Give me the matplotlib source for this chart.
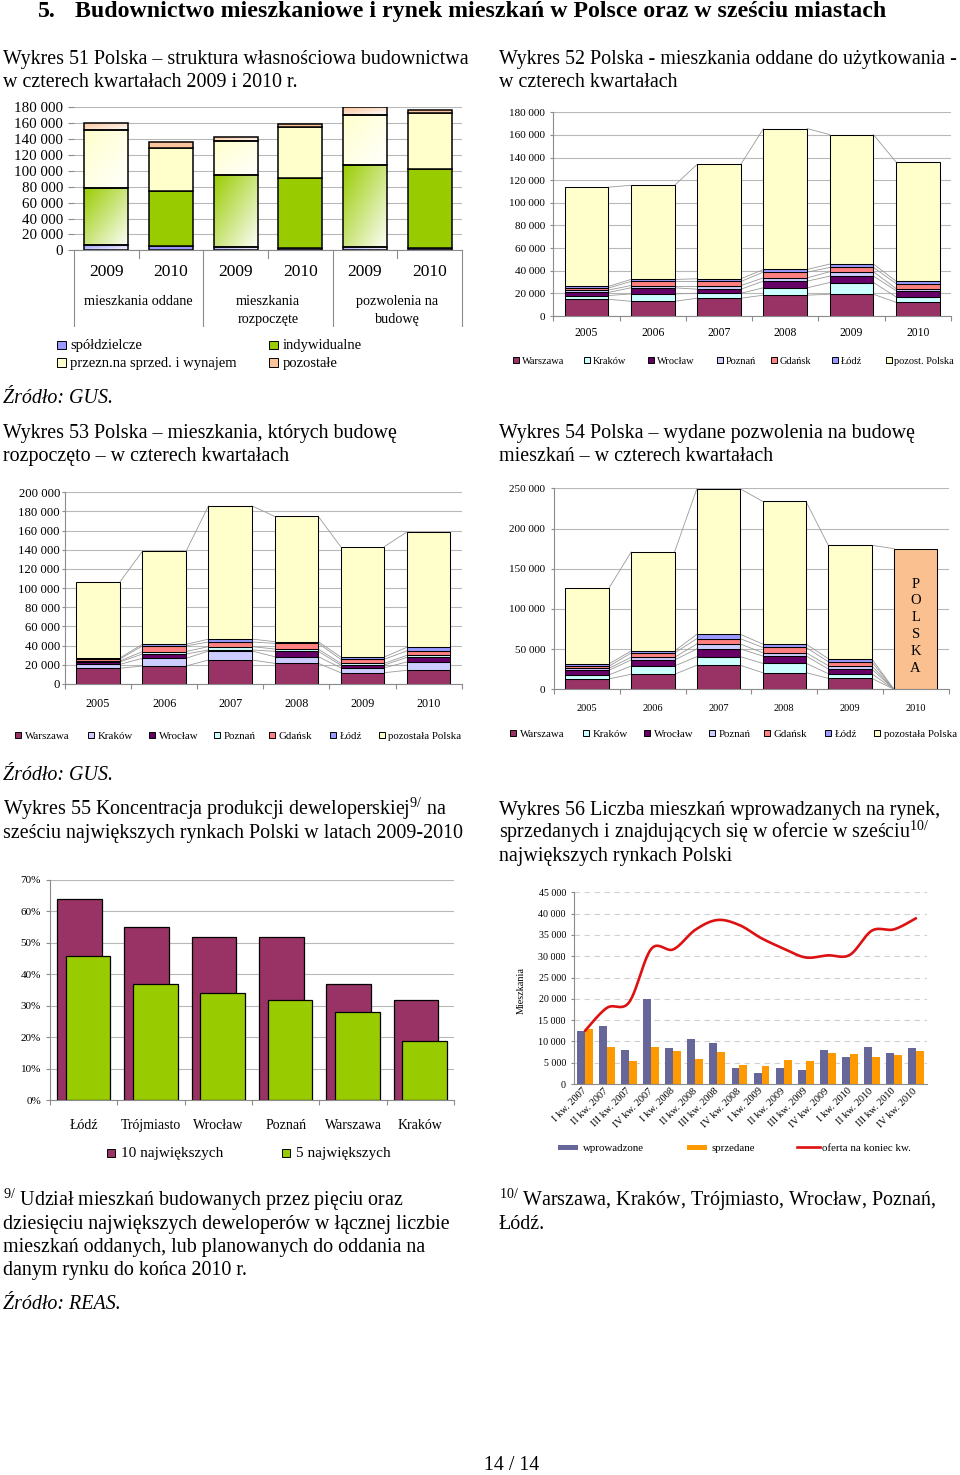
import numpy as np
import matplotlib
matplotlib.use('Agg')
import matplotlib.pyplot as plt
import matplotlib.transforms as mtransforms
from matplotlib.patches import Rectangle
from matplotlib.lines import Line2D
from matplotlib.ticker import FuncFormatter
from matplotlib.colors import to_rgb

plt.rcParams['font.family'] = ['Liberation Serif', 'DejaVu Serif']
plt.rcParams['mathtext.fontset'] = 'custom'
plt.rcParams['mathtext.rm'] = 'Liberation Serif'
plt.rcParams['mathtext.it'] = 'Liberation Serif:italic'

# ------------------------------------------------------------------ data
# Wykres 51
w51_years = ['2009', '2010', '2009', '2010', '2009', '2010']
w51_groups = [['mieszkania oddane'], ['mieszkania', 'rozpoczęte'], ['pozwolenia na', 'budowę']]
w51_spoldzielcze = [7000, 5000, 3800, 3500, 3800, 2500]
w51_indywidualne = [72000, 70000, 90700, 87600, 103300, 100400]
w51_przezn = [73000, 54300, 43700, 63900, 63800, 69300]
w51_pozostale = [8400, 6700, 5000, 3800, 8900, 3800]
w51_labels = ['spółdzielcze', 'indywidualne', 'przezn.na sprzed. i wynajem', 'pozostałe']

years = ['2005', '2006', '2007', '2008', '2009', '2010']
cities = ['Warszawa', 'Kraków', 'Wrocław', 'Poznań', 'Gdańsk', 'Łódź']

# Wykres 52 - oddane
w52_warszawa = [14800, 13000, 15700, 18400, 19200, 12100]
w52_krakow = [3300, 6500, 4400, 6500, 10400, 4800]
w52_wroclaw = [2700, 5400, 3600, 5900, 5600, 5600]
w52_poznan = [2100, 2000, 3200, 2900, 3900, 1800]
w52_gdansk = [1800, 3600, 3600, 5100, 3800, 4400]
w52_lodz = [1400, 1800, 2400, 2300, 3000, 2100]
w52_pozost = [87700, 83200, 101100, 124500, 114400, 105300]

# Wykres 53 - rozpoczete
w53_warszawa = [16400, 18800, 25000, 21600, 11800, 14300]
w53_krakow = [4100, 8000, 9400, 6900, 5200, 8700]
w53_wroclaw = [2500, 4500, 1100, 5600, 2800, 4800]
w53_poznan = [1000, 2500, 3500, 2400, 1800, 2100]
w53_gdansk = [2100, 5900, 4800, 5900, 4200, 4600]
w53_lodz = [1000, 1700, 3000, 1800, 2400, 3800]
w53_pozost = [79300, 97000, 139000, 130700, 115100, 120300]

# Wykres 54 - pozwolenia
w54_warszawa = [12900, 18700, 29900, 20700, 13700, 0]
w54_krakow = [4900, 10300, 10700, 11600, 5800, 0]
w54_wroclaw = [5800, 7500, 9600, 9200, 5800, 0]
w54_poznan = [2500, 3300, 6200, 4100, 4100, 0]
w54_gdansk = [2500, 5400, 6600, 6600, 5000, 0]
w54_lodz = [2900, 2500, 5400, 4200, 3700, 0]
w54_pozost = [94100, 123100, 181000, 177400, 141000, 175000]

# Wykres 55
w55_cities = ['Łódź', 'Trójmiasto', 'Wrocław', 'Poznań', 'Warszawa', 'Kraków']
w55_top10 = [0.64, 0.55, 0.52, 0.52, 0.37, 0.32]
w55_top5 = [0.46, 0.37, 0.34, 0.32, 0.28, 0.19]

# Wykres 56
w56_quarters = ['I kw. 2007', 'II kw. 2007', 'III kw. 2007', 'IV kw. 2007',
                'I kw. 2008', 'II kw. 2008', 'III kw. 2008', 'IV kw. 2008',
                'I kw. 2009', 'II kw. 2009', 'III kw. 2009', 'IV kw. 2009',
                'I kw. 2010', 'II kw. 2010', 'III kw. 2010', 'IV kw. 2010']
w56_wprowadzone = [12500, 13600, 8000, 20000, 8400, 10500, 9600, 3800,
                   2500, 3700, 3200, 8000, 6400, 8700, 7200, 8400]
w56_sprzedane = [12800, 8600, 5500, 8700, 7700, 5900, 7500, 4500,
                 4200, 5600, 5300, 7300, 7000, 6300, 6800, 7800]
w56_oferta = [12500, 17900, 19200, 31700, 31600, 36200, 38500, 37300,
              34200, 31800, 29700, 30200, 30300, 36000, 36300, 38900]

# ------------------------------------------------------------------ helpers
W, H = 960, 1475
fig = plt.figure(figsize=(W / 100, H / 100), dpi=100)
fig.patch.set_facecolor('white')
PX = 100 / 72.0  # px per point

def fy(y):
    return 1 - y / H

def add_ax(x0, y0, x1, y1):
    return fig.add_axes([x0 / W, 1 - y1 / H, (x1 - x0) / W, (y1 - y0) / H])

def ftext(x, y, s, **kw):
    kw.setdefault('va', 'baseline')
    return fig.text(x / W, fy(y), s, **kw)

def legend_box(x, yc, w, h, color, lw=0.7):
    fig.add_artist(Rectangle((x / W, fy(yc + h / 2)), w / W, h / H, transform=fig.transFigure,
                             facecolor=color, edgecolor='black', linewidth=lw))

def space_fmt(v, p):
    return f"{int(round(v)):,}".replace(',', ' ')

def tick_pad(center_px, axis_px, fs):
    return (center_px - axis_px) / PX - 0.554 * fs

def style_axes(ax, ymax, ystep, fmt, fs, tlen_px, pad_px, grid_color='#b8b8b8', left=True, grid_ls='-'):
    ax.set_ylim(0, ymax)
    ax.set_yticks(np.arange(0, ymax + ystep / 2, ystep))
    ax.yaxis.set_major_formatter(FuncFormatter(fmt))
    ax.tick_params(axis='y', labelsize=fs, length=tlen_px / PX, color='#8c8c8c', width=0.8, pad=pad_px / PX)
    ax.yaxis.grid(True, color=grid_color, linewidth=0.8, linestyle=grid_ls)
    ax.set_axisbelow(True)
    for s in ['top', 'right']:
        ax.spines[s].set_visible(False)
    ax.spines['left'].set_visible(left)
    ax.spines['left'].set_color('#8c8c8c')
    ax.spines['bottom'].set_color('#8c8c8c')
    ax.set_facecolor('none')

def cat_axis(ax, labels, fs, pad, minor_len_px=5):
    n = len(labels)
    ax.set_xlim(-0.5, n - 0.5)
    ax.set_xticks(np.arange(n))
    ax.set_xticklabels(labels, fontsize=fs)
    ax.set_xticks(np.arange(n + 1) - 0.5, minor=True)
    ax.tick_params(axis='x', which='major', length=0, pad=pad)
    ax.tick_params(axis='x', which='minor', length=minor_len_px / PX, color='#8c8c8c', width=0.8)

def gradient_fill(ax, patch, color, zorder=1.8):
    x0, y0 = patch.get_x(), patch.get_y()
    w, h = patch.get_width(), patch.get_height()
    rgb = np.array(to_rgb(color))
    v = np.linspace(0, 1, 80)[:, None]
    u = np.linspace(0, 1, 40)[None, :]
    t = np.clip((u + (1 - v)) / 2, 0, 1) * 0.97
    img = rgb[None, None, :] * (1 - t[..., None]) + t[..., None]
    ax.imshow(img, extent=[x0, x0 + w, y0, y0 + h], origin='lower', aspect='auto',
              zorder=zorder, interpolation='bilinear')

def catmull_rom(xs, ys, n=24):
    pts = np.column_stack([xs, ys]).astype(float)
    P = np.vstack([pts[0], pts, pts[-1]])
    out = []
    t = np.linspace(0, 1, n, endpoint=False)[:, None]
    for i in range(1, len(P) - 2):
        p0, p1, p2, p3 = P[i - 1], P[i], P[i + 1], P[i + 2]
        seg = 0.5 * ((2 * p1) + (-p0 + p2) * t + (2 * p0 - 5 * p1 + 4 * p2 - p3) * t ** 2
                     + (-p0 + 3 * p1 - 3 * p2 + p3) * t ** 3)
        out.append(seg)
    out.append(pts[-1][None, :])
    return np.vstack(out)

def city_chart(rect, series, colors, ymax, ystep, yfs, ytlen, ypad, year_fs, year_center, width=0.66):
    ax = add_ax(*rect)
    n = len(years)
    x = np.arange(n)
    bottom = np.zeros(n)
    tops, all_bars = [], []
    for vals, c in zip(series, colors):
        vals = np.asarray(vals, float)
        b = ax.bar(x, vals, width, bottom=bottom, color=c, edgecolor='black', linewidth=0.75, zorder=2)
        all_bars.append(b)
        bottom = bottom + vals
        tops.append(bottom.copy())
    hw = width / 2
    for t in tops:
        for i in range(n - 1):
            ax.plot([x[i] + hw, x[i + 1] - hw], [t[i], t[i + 1]], color='#9a9a9a', lw=0.6, zorder=1.5)
    style_axes(ax, ymax, ystep, space_fmt, yfs, ytlen, ypad)
    cat_axis(ax, years, year_fs, tick_pad(year_center, rect[3], year_fs))
    return ax, all_bars

TFS = 14.4   # body/title size

# ------------------------------------------------------------------ page texts
ftext(38, 17, '5.', fontsize=17.2, fontweight='bold')
ftext(75, 17, 'Budownictwo mieszkaniowe i rynek mieszkań w Polsce oraz w sześciu miastach',
      fontsize=17.2, fontweight='bold')

ftext(3, 64, 'Wykres 51 Polska – struktura własnościowa budownictwa', fontsize=TFS)
ftext(3, 87, 'w czterech kwartałach 2009 i 2010 r.', fontsize=TFS)
ftext(499, 64, 'Wykres 52 Polska - mieszkania oddane do użytkowania -', fontsize=TFS)
ftext(499, 87, 'w czterech kwartałach', fontsize=TFS)
ftext(3, 403, 'Źródło: GUS.', fontsize=TFS, fontstyle='italic')
ftext(3, 438, 'Wykres 53 Polska – mieszkania, których budowę', fontsize=TFS)
ftext(3, 461, 'rozpoczęto – w czterech kwartałach', fontsize=TFS)
ftext(499, 438, 'Wykres 54 Polska – wydane pozwolenia na budowę', fontsize=TFS)
ftext(499, 461, 'mieszkań – w czterech kwartałach', fontsize=TFS)
ftext(3, 780, 'Źródło: GUS.', fontsize=TFS, fontstyle='italic')
ftext(3, 815, r'Wykres 55 Koncentracja produkcji deweloperskiej$^{9/}$ na', fontsize=TFS)
ftext(3, 838, 'sześciu największych rynkach Polski w latach 2009-2010', fontsize=TFS)
ftext(499, 815, 'Wykres 56 Liczba mieszkań wprowadzanych na rynek,', fontsize=TFS)
ftext(499, 838, r'sprzedanych i znajdujących się w ofercie w sześciu$^{10/}$', fontsize=TFS)
ftext(499, 861, 'największych rynkach Polski', fontsize=TFS)

ftext(3, 1206, r'$^{9/}$ Udział mieszkań budowanych przez pięciu oraz', fontsize=TFS)
ftext(3, 1229, 'dziesięciu największych deweloperów w łącznej liczbie', fontsize=TFS)
ftext(3, 1252, 'mieszkań oddanych, lub planowanych do oddania na', fontsize=TFS)
ftext(3, 1275, 'danym rynku do końca 2010 r.', fontsize=TFS)
ftext(3, 1309, 'Źródło: REAS.', fontsize=TFS, fontstyle='italic')
ftext(499, 1206, r'$^{10/}$ Warszawa, Kraków, Trójmiasto, Wrocław, Poznań,', fontsize=TFS)
ftext(499, 1229, 'Łódź.', fontsize=TFS)
ftext(512, 1470, '14 / 14', fontsize=TFS, ha='center')

# ------------------------------------------------------------------ Wykres 51
r51 = (74, 107.3, 462, 250.3)
ax51 = add_ax(*r51)
x = np.arange(6)
cols51 = ['#9999ff', '#99cc00', '#ffffcc', '#f9c49b']
bottom = np.zeros(6)
for vals, c in zip([w51_spoldzielcze, w51_indywidualne, w51_przezn, w51_pozostale], cols51):
    vals = np.asarray(vals, float)
    bars = ax51.bar(x, vals, 0.68, bottom=bottom, color=c, edgecolor='black', linewidth=1.1, zorder=2)
    for i in (0, 2, 4):
        bars[i].set_facecolor('none')
        gradient_fill(ax51, bars[i], c)
    bottom = bottom + vals
style_axes(ax51, 180000, 20000, space_fmt, 10.8, 6, 5, left=False)
ax51.set_xlim(-0.5, 5.5)
ax51.set_xticks(x)
ax51.set_xticklabels(w51_years, fontsize=12.5)
ax51.tick_params(axis='x', length=0, pad=tick_pad(274, 250.3, 12.5))
bt51 = mtransforms.blended_transform_factory(ax51.transData, fig.transFigure)
for xb in [0.5, 2.5, 4.5]:
    fig.add_artist(Line2D([xb, xb], [fy(250.3), fy(258)], transform=bt51, color='#8c8c8c', lw=0.8))
for xb in [-0.5, 1.5, 3.5, 5.5]:
    fig.add_artist(Line2D([xb, xb], [fy(250.3), fy(326)], transform=bt51, color='#8c8c8c', lw=0.8))
for gi, lines in enumerate(w51_groups):
    for li, s in enumerate(lines):
        fig.text(2 * gi + 0.5, fy(301.5 + 18 * li), s, transform=bt51, ha='center', va='center', fontsize=10.3)
# legend
leg51 = [(57, 346, 0), (57, 363.5, 2), (269, 346, 1), (269, 363.5, 3)]
for lx, ly, k in leg51:
    legend_box(lx, ly - 1, 8.5, 8.5, cols51[k])
    ftext(lx + 13.5, ly, w51_labels[k], fontsize=10.5, va='center')

# ------------------------------------------------------------------ Wykres 52
cols52 = ['#993366', '#ccffff', '#660066', '#ccccff', '#ff8080', '#9999ff', '#ffffcc']
lab52 = cities + ['pozost. Polska']
ax52, _ = city_chart((553.3, 112.3, 951, 316),
                     [w52_warszawa, w52_krakow, w52_wroclaw, w52_poznan, w52_gdansk, w52_lodz, w52_pozost],
                     cols52, 180000, 20000, 8, 3, 5, 8.4, 333)
leg52_x = [513, 584, 648, 717, 771, 832, 886]
for lx, c, s in zip(leg52_x, cols52, lab52):
    legend_box(lx, 360, 6, 6, c)
    ftext(lx + 8.5, 361.5, s, fontsize=7.5, va='center')

# ------------------------------------------------------------------ Wykres 53
cols53 = ['#993366', '#ccccff', '#660066', '#ccffff', '#ff8080', '#9999ff', '#ffffcc']
lab53 = cities + ['pozostała Polska']
ax53, _ = city_chart((65, 492.3, 461.7, 684),
                     [w53_warszawa, w53_krakow, w53_wroclaw, w53_poznan, w53_gdansk, w53_lodz, w53_pozost],
                     cols53, 200000, 20000, 9.2, 3, 2, 8.7, 705)
leg53_x = [15, 87.5, 148.5, 213.5, 268.5, 330, 378.5]
for lx, c, s in zip(leg53_x, cols53, lab53):
    legend_box(lx, 735, 6, 6, c)
    ftext(lx + 10, 736.5, s, fontsize=7.8, va='center')

# ------------------------------------------------------------------ Wykres 54
cols54 = ['#993366', '#ccffff', '#660066', '#ccccff', '#ff8080', '#9999ff', '#ffffcc']
ax54, bars54 = city_chart((554.3, 488.3, 948.5, 689.3),
                          [w54_warszawa, w54_krakow, w54_wroclaw, w54_poznan, w54_gdansk, w54_lodz, w54_pozost],
                          cols54, 250000, 50000, 8.1, 3, 6, 7.5, 709.5)
bars54[-1][5].set_facecolor('#fac090')
bt54 = mtransforms.blended_transform_factory(ax54.transData, fig.transFigure)
for k, (ch, yy) in enumerate(zip('POLSKA', [584.5, 600.5, 617, 635, 651.5, 669])):
    fig.text(5, fy(yy), ch, transform=bt54, ha='center', va='center', fontsize=10.5)
leg54_x = [510, 582.5, 643.5, 708.5, 763.5, 825, 873.5]
for lx, c, s in zip(leg54_x, cols54, lab53):
    legend_box(lx, 733, 6, 6, c)
    ftext(lx + 10, 734.5, s, fontsize=7.8, va='center')

# ------------------------------------------------------------------ Wykres 55
r55 = (50, 880, 454, 1100.3)
ax55 = add_ax(*r55)
x = np.arange(len(w55_cities))
ax55.bar(x - 0.066, w55_top10, 0.665, color='#993366', edgecolor='black', linewidth=0.9, zorder=2)
ax55.bar(x + 0.066, w55_top5, 0.665, color='#99cc00', edgecolor='black', linewidth=0.9, zorder=2)
style_axes(ax55, 0.7, 0.1, lambda v, p: f"{int(round(v * 100))}%", 8, 4, 5)
cat_axis(ax55, w55_cities, 10, tick_pad(1127, 1100.3, 10))
legend_box(106.7, 1153, 8.5, 8.5, '#993366')
ftext(120.7, 1154, '10 największych', fontsize=11, va='center')
legend_box(281.7, 1153, 8.5, 8.5, '#99cc00')
ftext(296, 1154, '5 największych', fontsize=11, va='center')

# ------------------------------------------------------------------ Wykres 56
r56 = (574, 892.3, 927, 1084)
ax56 = add_ax(*r56)
x = np.arange(len(w56_quarters))
ax56.bar(x - 0.18, w56_wprowadzone, 0.36, color='#666699', zorder=2)
ax56.bar(x + 0.18, w56_sprzedane, 0.36, color='#ff9900', zorder=2)
sm = catmull_rom(x, w56_oferta)
ax56.plot(sm[:, 0], sm[:, 1], color='#dd1111', lw=1.9, zorder=3, solid_capstyle='round')
style_axes(ax56, 45000, 5000, space_fmt, 7.2, 3, 5, grid_color='#d0d0d0', grid_ls=(0, (5, 4)))
ax56.set_xlim(-0.5, len(w56_quarters) - 0.5)
ax56.set_xticks(x)
ax56.set_xticklabels(w56_quarters, rotation=45, ha='right', va='center', rotation_mode='anchor', fontsize=7.5)
ax56.tick_params(axis='x', length=0, pad=4)
ftext(521.7, 990, 'Mieszkania', rotation=90, fontsize=7.3, ha='center', va='center')
fig.add_artist(Rectangle((558 / W, fy(1149.7)), 20 / W, 5 / H, transform=fig.transFigure,
                         facecolor='#666699', edgecolor='none'))
ftext(583, 1148.5, 'wprowadzone', fontsize=7.8, va='center')
fig.add_artist(Rectangle((687 / W, fy(1149.7)), 20 / W, 5 / H, transform=fig.transFigure,
                         facecolor='#ff9900', edgecolor='none'))
ftext(711, 1148.5, 'sprzedane', fontsize=7.8, va='center')
fig.add_artist(Line2D([797 / W, 820 / W], [fy(1147.2), fy(1147.2)], transform=fig.transFigure,
                      color='#dd1111', lw=1.9))
ftext(822, 1148.5, 'oferta na koniec kw.', fontsize=7.8, va='center')

fig.savefig('out.png', dpi=100, facecolor='white')
